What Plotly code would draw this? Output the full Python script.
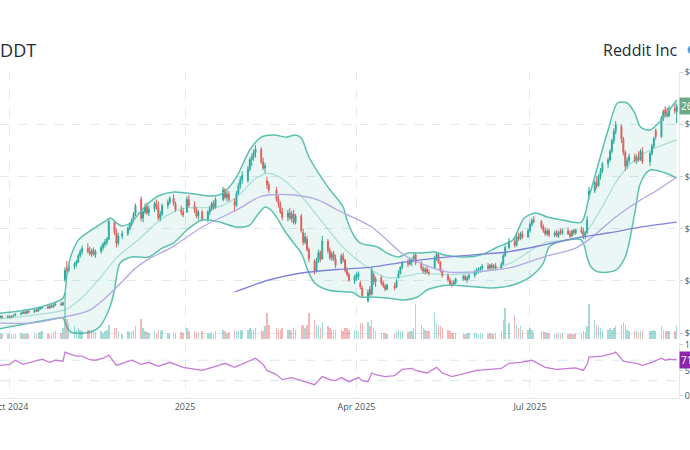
import pandas as pd
import plotly.graph_objects as go

# ---------------- data ----------------
holidays = ["2024-11-28", "2024-12-25", "2025-01-01", "2025-01-09", "2025-01-20", "2025-02-17",
            "2025-04-18", "2025-05-26", "2025-06-19", "2025-07-04", "2025-09-01"]
dates = pd.bdate_range("2024-09-24", "2025-09-16", freq="C", holidays=holidays)

open_ = [
    63, 64, 65, 66, 65,
    66, 65, 66, 67, 68, 69, 70, 69, 71, 70, 72, 71, 73, 74, 75, 74, 76, 75, 77, 78, 77, 101, 112,
    110, 114, 116, 118, 124, 128, 131, 128, 126, 129, 125, 128, 132, 135, 137, 140, 156, 146, 136, 143,
    145, 150, 154, 158, 164, 178, 160, 166, 171, 165, 169, 174, 171, 160, 164, 172, 175, 179, 174, 168, 166,
    166, 178, 172, 168, 162, 166, 159, 166, 169, 174, 170, 178, 187, 180, 183, 176, 172, 184, 191, 197,
    196, 207, 216, 219, 223, 226, 214, 208, 196, 192, 187, 178, 174, 166, 161, 165, 160, 164, 156,
    162, 146, 137, 140, 130, 119, 109, 119, 127, 121, 138, 129, 122, 126, 121, 117, 124, 120, 110, 106, 100,
    103, 104, 98, 93, 81, 92, 87, 106, 99, 103, 98, 95, 92, 95, 94, 103, 107, 113, 117, 116, 118,
    121, 125, 117, 112, 109, 111, 108, 112, 122, 125, 118, 110, 105, 101, 97, 96, 98, 102, 104, 101, 103,
    105, 108, 110, 111, 112, 114, 112, 115, 113, 114, 112, 116, 124, 132, 138, 134, 142, 140, 145, 142,
    148, 154, 158, 157, 152, 148, 145, 148, 144, 146, 143, 147, 146, 148, 145, 143, 148, 146, 149, 147, 142, 146,
    182, 186, 194, 191, 200, 205, 212, 216, 224, 234, 243, 248, 236, 223, 210, 215, 219, 215, 218, 216, 224,
    214, 222, 229, 244, 238, 256, 264, 262, 258, 265, 262,
]
high = [
    65, 66, 67, 67, 67,
    67, 67, 68, 69, 70, 71, 71, 72, 72, 73, 73, 74, 75, 76, 77, 77, 78, 78, 79, 80, 80, 113, 119,
    116, 118, 120, 126, 130, 134, 136, 133, 131, 132, 130, 134, 137, 140, 142, 160, 158, 150, 146, 148,
    152, 156, 160, 166, 174, 181, 168, 174, 175, 172, 176, 178, 176, 167, 174, 178, 181, 183, 176, 172, 170,
    181, 182, 176, 171, 168, 168, 168, 172, 176, 177, 180, 190, 189, 186, 186, 179, 186, 194, 200, 205,
    210, 218, 222, 226, 230, 228, 218, 213, 200, 195, 190, 182, 176, 170, 168, 170, 167, 168, 164,
    164, 150, 146, 143, 132, 121, 122, 130, 129, 143, 140, 132, 128, 129, 125, 126, 127, 121, 113, 108, 106,
    108, 109, 100, 95, 92, 95, 113, 108, 104, 105, 100, 97, 97, 98, 102, 110, 114, 119, 121, 122, 122,
    126, 127, 119, 114, 113, 114, 111, 124, 128, 126, 119, 111, 107, 103, 100, 101, 103, 106, 106, 105, 107,
    110, 112, 113, 114, 116, 117, 116, 117, 116, 117, 118, 126, 134, 141, 141, 144, 146, 147, 148, 150,
    156, 160, 162, 158, 154, 151, 150, 150, 148, 149, 148, 150, 150, 151, 148, 149, 150, 150, 152, 151, 148, 162,
    190, 196, 200, 202, 208, 214, 218, 226, 236, 246, 253, 250, 238, 225, 218, 222, 222, 221, 224, 226, 228,
    224, 231, 238, 246, 258, 264, 267, 266, 268, 270, 270,
]
low = [
    62, 63, 64, 64, 64,
    64, 64, 65, 66, 67, 68, 68, 68, 69, 69, 70, 70, 72, 73, 73, 73, 74, 74, 76, 76, 76, 99, 108,
    108, 111, 113, 117, 122, 125, 126, 124, 123, 124, 122, 126, 129, 132, 134, 139, 144, 132, 134, 140,
    143, 148, 152, 156, 162, 157, 156, 164, 163, 162, 166, 168, 158, 157, 162, 169, 173, 172, 166, 163, 161,
    165, 170, 165, 160, 158, 157, 156, 163, 167, 168, 169, 176, 178, 176, 176, 166, 171, 182, 188, 193,
    194, 205, 210, 215, 218, 212, 206, 203, 188, 184, 176, 170, 164, 158, 157, 158, 156, 154, 154,
    146, 134, 135, 128, 118, 106, 108, 117, 118, 120, 126, 120, 119, 119, 112, 116, 118, 108, 104, 99, 97,
    100, 101, 92, 84, 79, 85, 86, 96, 94, 96, 93, 90, 91, 91, 93, 102, 106, 111, 113, 115, 114,
    119, 115, 110, 107, 106, 107, 105, 111, 119, 116, 108, 103, 99, 95, 94, 95, 97, 100, 100, 98, 101,
    103, 106, 107, 108, 110, 110, 111, 111, 111, 110, 111, 115, 123, 130, 132, 133, 138, 139, 140, 141,
    146, 152, 155, 150, 146, 143, 143, 142, 142, 142, 141, 144, 144, 144, 141, 142, 144, 144, 145, 140, 140, 145,
    178, 184, 188, 190, 197, 203, 208, 214, 222, 231, 240, 232, 220, 205, 207, 212, 213, 212, 214, 215, 212,
    210, 220, 227, 235, 237, 253, 257, 256, 257, 260, 251,
]
close = [
    64, 65, 66, 65, 66,
    65, 66, 67, 68, 69, 70, 69, 71, 70, 72, 71, 73, 74, 75, 74, 76, 75, 77, 78, 77, 79, 110, 110,
    114, 116, 118, 124, 128, 131, 128, 126, 129, 125, 128, 132, 135, 137, 140, 157, 146, 136, 143, 145,
    150, 154, 158, 164, 172, 160, 166, 171, 165, 169, 174, 171, 160, 164, 172, 175, 179, 174, 168, 166, 163,
    178, 172, 168, 162, 166, 159, 166, 169, 174, 170, 178, 187, 180, 183, 178, 172, 184, 191, 197, 201,
    207, 216, 219, 223, 226, 214, 208, 210, 192, 187, 178, 174, 166, 161, 165, 160, 164, 156, 162,
    148, 137, 142, 130, 121, 109, 119, 127, 121, 138, 129, 122, 126, 121, 115, 124, 120, 110, 106, 101, 104,
    106, 107, 94, 86, 89, 87, 110, 99, 102, 98, 95, 92, 96, 93, 100, 107, 113, 117, 116, 120, 121,
    124, 117, 112, 109, 111, 108, 107, 122, 126, 118, 110, 105, 101, 97, 96, 99, 102, 104, 101, 103, 105,
    108, 110, 111, 112, 114, 112, 115, 113, 114, 112, 116, 124, 132, 138, 134, 142, 140, 145, 142, 148,
    154, 158, 157, 152, 148, 145, 148, 144, 146, 143, 147, 146, 148, 145, 143, 148, 146, 149, 147, 142, 146, 158,
    186, 194, 191, 200, 205, 212, 216, 224, 234, 243, 249, 236, 223, 210, 215, 219, 215, 218, 216, 224, 214,
    222, 229, 236, 238, 256, 262, 259, 258, 265, 263, 267,
]
volume_m = [
    4, 3.5, 4, 3, 3.5,
    4, 3, 3.5, 3, 4, 3.5, 3, 4, 3, 4.5, 3.5, 4, 4.5, 5, 4, 3.5, 4, 4.5, 5, 4, 7, 29, 13,
    10, 8, 6, 7, 6, 5, 6, 5.5, 4.5, 5, 4.5, 5, 4, 5, 6, 9, 7, 7, 5, 3,
    5, 4.5, 5, 6, 8, 13, 7, 5, 4.5, 4, 5, 4, 6, 5, 6, 4, 3, 4, 4, 4.5, 4,
    7, 5, 5, 4.5, 4, 5, 4, 4, 4.5, 4, 5, 6, 5, 4, 4.5, 6, 5, 5, 6, 6,
    6, 7, 6, 6, 7, 6, 5, 8, 16.5, 9, 7, 6, 6, 7, 6, 6, 5, 7, 6,
    8, 9, 7, 9, 16.5, 12, 9, 8, 7, 11, 8, 7, 6, 6, 6, 6, 5, 7, 7, 6, 6,
    5, 5, 10, 10, 11, 8, 12, 7, 5, 4, 4, 4, 3.5, 4, 5, 6, 5, 5, 4.5, 5, 5,
    7, 22, 9, 7, 6, 5, 5, 17, 10, 9, 8, 7, 6, 5, 4, 4, 4, 4, 3.5, 4, 4,
    4, 4, 3.5, 4, 4, 3.5, 4, 3.5, 3, 4, 5, 12, 20, 10, 15, 9, 7, 8, 6, 6,
    7, 6, 4, 5, 5, 4.5, 4, 4, 3.5, 4, 3.5, 3.5, 4, 3.5, 4, 3.5, 3.5, 4, 3.5, 5, 4.5, 8,
    22, 12, 9, 8, 7, 6, 6, 7, 6, 7, 8, 9, 11, 9, 6, 5, 5, 5, 4.5, 5, 6,
    5, 5, 6, 5, 8, 6, 5, 5, 5, 5, 8,
]

bb_upper_dates = ["2024-09-24", "2024-10-06", "2024-10-17", "2024-10-29", "2024-10-31", "2024-11-02",
                  "2024-11-06", "2024-11-13", "2024-11-21", "2024-11-23", "2024-11-26", "2024-11-29",
                  "2024-12-04", "2024-12-08", "2024-12-13", "2024-12-18", "2024-12-26", "2025-01-02",
                  "2025-01-10", "2025-01-15", "2025-01-21", "2025-01-28", "2025-02-04", "2025-02-10",
                  "2025-02-17", "2025-02-23", "2025-02-28", "2025-03-03", "2025-03-07", "2025-03-12",
                  "2025-03-17", "2025-03-25", "2025-03-27", "2025-03-31", "2025-04-03", "2025-04-12",
                  "2025-04-17", "2025-04-23", "2025-04-28", "2025-05-05", "2025-05-12", "2025-05-17",
                  "2025-05-28", "2025-06-05", "2025-06-14", "2025-06-22", "2025-06-28", "2025-07-04",
                  "2025-07-10", "2025-07-18", "2025-07-28", "2025-08-01", "2025-08-06", "2025-08-11",
                  "2025-08-16", "2025-08-21", "2025-08-25", "2025-08-28", "2025-09-02", "2025-09-08",
                  "2025-09-16"]
bb_upper = [68.5, 71, 75, 83.5, 105.6, 123, 139, 148.7, 158.2, 160.2, 155.4, 152.5,
            156.3, 165, 174.5, 181.2, 185.1, 184.1, 182.2, 181.2, 184.1, 199.4, 225.3, 237.7,
            239.7, 237.5, 239.7, 236.8, 218.6, 203.3, 189.8, 170.7, 158.2, 142, 136.2, 132.4,
            126.6, 122.8, 126.6, 126.6, 127.6, 124.7, 122.8, 124.7, 132.4, 139.1, 160.2, 164.9,
            161.1, 158.2, 156.3, 180.3, 212.8, 244.4, 270.3, 270.3, 260.7, 247.3, 244.4, 254,
            273.2]

bb_lower_dates = ["2024-09-24", "2024-10-06", "2024-10-27", "2024-10-29", "2024-10-31", "2024-11-02",
                  "2024-11-10", "2024-11-17", "2024-11-22", "2024-11-25", "2024-11-26", "2024-11-28",
                  "2024-12-04", "2024-12-13", "2024-12-20", "2024-12-26", "2025-01-02", "2025-01-10",
                  "2025-01-19", "2025-01-28", "2025-02-04", "2025-02-08", "2025-02-12", "2025-02-15",
                  "2025-02-19", "2025-02-22", "2025-02-27", "2025-03-03", "2025-03-07", "2025-03-10",
                  "2025-03-17", "2025-03-25", "2025-03-30", "2025-04-03", "2025-04-10", "2025-04-17",
                  "2025-04-26", "2025-05-03", "2025-05-08", "2025-05-13", "2025-05-20", "2025-05-28",
                  "2025-06-03", "2025-06-10", "2025-06-17", "2025-06-22", "2025-07-01", "2025-07-08",
                  "2025-07-11", "2025-07-16", "2025-07-28", "2025-07-31", "2025-08-02", "2025-08-06",
                  "2025-08-15", "2025-08-20", "2025-08-25", "2025-08-28", "2025-09-02", "2025-09-10",
                  "2025-09-16"]
bb_lower = [53.5, 57.7, 64.4, 64.4, 55.7, 51, 50, 55.7, 72, 91.2, 103.6, 117,
            122.8, 122.8, 131.4, 136.2, 148.7, 158.2, 156.3, 151.5, 153.4, 163, 170.7, 167.8,
            158.2, 148.7, 136.2, 126.6, 107.5, 97.9, 91.2, 89.5, 89, 84.5, 84.5, 83.5,
            81.6, 84.5, 91.2, 94.1, 96, 95, 94.1, 93.1, 94.1, 96, 103.6, 117,
            132.4, 137.2, 139.1, 122.8, 113.2, 108.4, 110.3, 122.8, 164.9, 193.7, 206.1, 203.3,
            198.5]

bb_mid_dates = ["2024-09-24", "2024-10-13", "2024-10-27", "2024-10-31", "2024-11-08", "2024-11-17",
                "2024-11-26", "2024-12-08", "2024-12-18", "2024-12-26", "2025-01-02", "2025-01-10",
                "2025-01-19", "2025-01-28", "2025-02-07", "2025-02-14", "2025-02-20", "2025-03-03",
                "2025-03-12", "2025-03-25", "2025-04-03", "2025-04-17", "2025-05-05", "2025-05-22",
                "2025-06-09", "2025-06-22", "2025-07-08", "2025-07-28", "2025-08-07", "2025-08-16",
                "2025-08-25", "2025-09-02", "2025-09-16"]
bb_mid = [63.5, 67, 71, 73, 84, 102, 122, 140, 157, 166, 170, 170,
          171, 180, 198, 203, 199, 181, 161, 132, 118, 103, 107, 106,
          110, 118, 136, 142, 168, 197, 216, 225, 235]

sma50_dates = ["2024-09-24", "2024-10-13", "2024-10-27", "2024-11-12", "2024-11-24", "2024-12-01",
               "2024-12-06", "2024-12-13", "2024-12-25", "2025-01-10", "2025-01-28", "2025-02-09",
               "2025-02-14", "2025-02-27", "2025-03-12", "2025-03-22", "2025-04-09", "2025-04-26",
               "2025-05-07", "2025-05-19", "2025-05-31", "2025-06-12", "2025-06-22", "2025-07-08",
               "2025-07-25", "2025-08-02", "2025-08-15", "2025-08-28", "2025-09-06", "2025-09-16"]
sma50 = [59.5, 59.8, 64.4, 72, 90, 103, 112, 121, 132, 151.5, 167.8, 180.3,
         182.2, 182.2, 177.4, 167.8, 151.5, 124.7, 115.1, 108.4, 108.4, 110.3, 113.2, 122.8,
         131.4, 141, 161.1, 177.4, 187, 199.4]

sma200_dates = ["2025-01-27", "2025-02-14", "2025-03-03", "2025-03-25", "2025-04-09", "2025-04-26",
                "2025-05-13", "2025-05-31", "2025-06-19", "2025-07-08", "2025-07-25", "2025-08-11",
                "2025-08-28", "2025-09-16"]
sma200 = [89.3, 100.8, 107.5, 111.3, 113.2, 118, 121.8, 124.7, 127.6, 134.3, 141, 145.8, 151.5, 156.3]

rsi_dates = ["2024-09-24", "2024-09-26", "2024-10-01", "2024-10-04", "2024-10-08", "2024-10-14",
             "2024-10-18", "2024-10-22", "2024-10-25", "2024-10-29", "2024-10-30", "2024-11-01",
             "2024-11-05", "2024-11-08", "2024-11-12", "2024-11-15", "2024-11-19", "2024-11-22",
             "2024-11-26", "2024-11-29", "2024-12-04", "2024-12-09", "2024-12-13", "2024-12-18",
             "2024-12-24", "2024-12-31", "2025-01-07", "2025-01-10", "2025-01-17", "2025-01-22",
             "2025-01-27", "2025-02-03", "2025-02-07", "2025-02-11", "2025-02-13", "2025-02-18",
             "2025-02-21", "2025-02-26", "2025-03-03", "2025-03-07", "2025-03-10", "2025-03-14",
             "2025-03-18", "2025-03-21", "2025-03-24", "2025-03-28", "2025-04-02", "2025-04-04",
             "2025-04-07", "2025-04-09", "2025-04-11", "2025-04-16", "2025-04-21", "2025-04-25",
             "2025-04-30", "2025-05-02", "2025-05-08", "2025-05-13", "2025-05-16", "2025-05-21",
             "2025-05-28", "2025-06-03", "2025-06-10", "2025-06-16", "2025-06-20", "2025-06-26",
             "2025-07-02", "2025-07-09", "2025-07-15", "2025-07-21", "2025-07-25", "2025-07-29",
             "2025-07-31", "2025-08-01", "2025-08-08", "2025-08-14", "2025-08-15", "2025-08-19",
             "2025-08-22", "2025-08-26", "2025-08-29", "2025-09-03", "2025-09-08", "2025-09-10",
             "2025-09-12", "2025-09-16"]
rsi = [62, 60, 62, 70, 62, 68, 72, 66, 70, 68, 86, 83,
       78, 78, 71, 70, 74, 80, 60, 64, 70, 62, 66, 58,
       66, 56, 52, 50, 58, 64, 56, 68, 74, 62, 50, 42,
       32, 36, 30, 26, 22, 38, 32, 30, 36, 28, 36, 30,
       28, 45, 42, 38, 40, 52, 54, 50, 45, 56, 45, 38,
       45, 50, 52, 54, 64, 66, 70, 56, 52, 54, 55, 50,
       62, 76, 78, 84, 86, 68, 66, 64, 60, 66, 74, 70,
       72, 71]

quarter_ticks = ["2024-10-01", "2025-01-01", "2025-04-01", "2025-07-01"]
quarter_labels = ["Oct 2024", "2025", "Apr 2025", "Jul 2025"]
price_ticks = [50, 100, 150, 200, 250, 300]
price_labels = ["$50", "$100", "$150", "$200", "$250", "$300"]
rsi_ticks = [0, 50, 100]
rsi_labels = ["0", "50", "100"]

# ---------------- styling ----------------
UP = "#26a69a"
DOWN = "#ef5350"
BAND = "#5cc0b0"
GRID = "#dfe9ef"
TXT = "#4a5563"
n = min(len(dates), len(close))
dates = dates[:n]
vol_colors = ["rgba(38,166,154,0.42)" if c >= o else "rgba(239,83,80,0.42)"
              for o, c in zip(open_[:n], close[:n])]

fig = go.Figure()
fig.add_trace(go.Scatter(x=bb_lower_dates, y=bb_lower, mode="lines",
                         line=dict(color=BAND, width=1.5, shape="spline", smoothing=0.8),
                         hoverinfo="skip", showlegend=False))
fig.add_trace(go.Scatter(x=bb_upper_dates, y=bb_upper, mode="lines",
                         line=dict(color=BAND, width=1.5, shape="spline", smoothing=0.8),
                         fill="tonexty", fillcolor="rgba(92,192,176,0.13)",
                         hoverinfo="skip", showlegend=False))
fig.add_trace(go.Scatter(x=bb_mid_dates, y=bb_mid, mode="lines",
                         line=dict(color="rgba(92,192,176,0.45)", width=1.2, shape="spline", smoothing=0.8),
                         hoverinfo="skip", showlegend=False))
fig.add_trace(go.Scatter(x=sma50_dates, y=sma50, mode="lines",
                         line=dict(color="#b3a7e6", width=1.3, shape="spline", smoothing=0.8),
                         hoverinfo="skip", showlegend=False))
fig.add_trace(go.Scatter(x=sma200_dates, y=sma200, mode="lines",
                         line=dict(color="#7d83d6", width=1.3, shape="spline", smoothing=0.8),
                         hoverinfo="skip", showlegend=False))
fig.add_trace(go.Bar(x=dates, y=volume_m[:n], yaxis="y3", marker=dict(color=vol_colors, line=dict(width=0)),
                     width=0.75 * 86400000, hoverinfo="skip", showlegend=False))
fig.add_trace(go.Candlestick(x=dates, open=open_[:n], high=high[:n], low=low[:n], close=close[:n],
                             increasing=dict(line=dict(color=UP, width=1), fillcolor=UP),
                             decreasing=dict(line=dict(color=DOWN, width=1), fillcolor=DOWN),
                             showlegend=False))
fig.add_trace(go.Scatter(x=rsi_dates, y=rsi, xaxis="x2", yaxis="y4", mode="lines",
                         line=dict(color="#c77ad6", width=1.3),
                         hoverinfo="skip", showlegend=False))

x_range = ["2024-09-25 22:00", "2025-09-17 05:00"]
tickfont = dict(family="Open Sans, sans-serif", size=9, color=TXT)

fig.update_layout(
    width=690, height=450,
    margin=dict(l=0, r=11, t=72, b=52, autoexpand=False),
    paper_bgcolor="white", plot_bgcolor="white",
    bargap=0,
    xaxis=dict(domain=[0, 1], anchor="y", range=x_range, rangeslider=dict(visible=False),
               tickvals=quarter_ticks, ticktext=quarter_labels, showticklabels=False,
               showgrid=True, gridcolor=GRID, griddash="dash", zeroline=False, automargin=False),
    xaxis2=dict(domain=[0, 1], anchor="y4", matches="x", range=x_range,
                tickvals=quarter_ticks, ticktext=quarter_labels, tickfont=tickfont,
                showgrid=True, gridcolor=GRID, griddash="dash", zeroline=False,
                showline=True, linecolor="#e3e9ee", ticks="", automargin=False,
                ticklabeloverflow="allow"),
    yaxis=dict(domain=[0.181, 1], side="right", range=[44.3, 300],
               tickvals=price_ticks, ticktext=price_labels, tickfont=tickfont,
               showgrid=True, gridcolor=GRID, griddash="dash", zeroline=False,
               showline=True, linecolor="#e3e9ee", ticks="outside", ticklen=3, tickcolor="#c9d2da",
               automargin=False, ticklabeloverflow="allow"),
    yaxis3=dict(overlaying="y", range=[0, 170], visible=False, automargin=False),
    yaxis4=dict(domain=[0, 0.169], side="right", range=[-4, 104],
                tickvals=rsi_ticks, ticktext=rsi_labels, tickfont=tickfont,
                showgrid=False, zeroline=False,
                showline=True, linecolor="#e3e9ee", ticks="outside", ticklen=3, tickcolor="#c9d2da",
                automargin=False, ticklabeloverflow="allow"),
    font=dict(family="Open Sans, sans-serif"),
)

for lvl in (30, 70):
    fig.add_shape(type="line", xref="x2", yref="y4", x0=x_range[0], x1=x_range[1], y0=lvl, y1=lvl,
                  line=dict(color="#d6e6ee", width=1, dash="dash"), layer="below")

# small brand marker right after the company name (mostly beyond the right edge)
fig.add_shape(type="circle", xref="paper", yref="paper",
              x0=1.0125, x1=1.0275, y0=1.054, y1=1.082,
              fillcolor="#5b9bd5", line=dict(width=0))

fig.add_annotation(xref="paper", yref="paper", x=-0.0195, y=1.0675, xanchor="left", yanchor="middle",
                   text="RDDT", showarrow=False, font=dict(size=18, color="#222b38"))
fig.add_annotation(xref="paper", yref="paper", x=1.0015, y=1.0675, xanchor="right", yanchor="middle",
                   text="Reddit Inc", showarrow=False, font=dict(size=16, color="#222b38"))
fig.add_annotation(xref="paper", yref="y", x=1.0, y=close[n - 1], xanchor="left", yanchor="middle",
                   text="%.2f" % close[n - 1], showarrow=False, bgcolor="#6aaa85", borderpad=1,
                   font=dict(size=10, color="white"))
fig.add_annotation(xref="paper", yref="y4", x=1.0, y=rsi[-1], xanchor="left", yanchor="middle",
                   text="%.2f" % rsi[-1], showarrow=False, bgcolor="#8e24aa", borderpad=1,
                   font=dict(size=10, color="white"))

fig.write_html("out.html")
